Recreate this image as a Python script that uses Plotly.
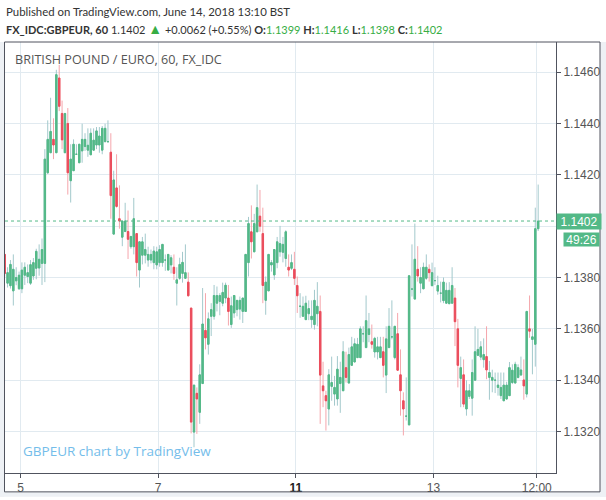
import numpy as np
import pandas as pd
import plotly.graph_objects as go

# ---------------- data (GBPEUR, 60 min bars) ----------------
opens = [
 1.13890,1.13778,1.13768,1.13748,1.13787,1.13756,1.13756,1.13809,1.13804,1.13778,
 1.13806,1.13836,1.13837,1.13855,1.13855,1.14208,1.14286,1.14338,1.14286,1.14577,
 1.14439,1.14286,1.14400,1.14177,1.14216,1.14280,1.14247,1.14293,1.14310,1.14296,
 1.14278,1.14296,1.14316,1.14316,1.14296,1.14329,1.14329,1.14288,1.13969,1.14149,
 1.14029,1.13957,1.13979,1.13979,1.13920,1.13920,1.13971,1.13829,1.13887,1.13887,
 1.13868,1.13868,1.13858,1.13849,1.13858,1.13858,1.13868,1.13829,1.13849,1.13840,
 1.13778,1.13797,1.13816,1.13797,1.13782,1.13681,1.13198,1.13349,1.13275,1.13387,
 1.13594,1.13540,1.13649,1.13649,1.13700,1.13707,1.13700,1.13720,1.13720,1.13617,
 1.13662,1.13675,1.13677,1.13668,1.13668,1.13858,1.13978,1.13900,1.13978,1.14039,
 1.13971,1.13711,1.13748,1.13849,1.13810,1.13858,1.13900,1.13898,1.13874,1.13840,
 1.13836,1.13832,1.13769,1.13688,1.13649,1.13636,1.13659,1.13636,1.13617,1.13659,
 1.13668,1.13378,1.13340,1.13288,1.13376,1.13346,1.13327,1.13387,1.13359,1.13449,
 1.13389,1.13458,1.13471,1.13488,1.13488,1.13581,1.13527,1.13578,1.13550,1.13510,
 1.13510,1.13488,1.13511,1.13420,1.13527,1.13569,1.13488,1.13581,1.13421,1.13320,
 1.13260,1.13226,1.13755,1.13716,1.13832,1.13778,1.13756,1.13797,1.13832,1.13768,
 1.13788,1.13747,1.13739,1.13710,1.13700,1.13698,1.13700,1.13720,1.13600,1.13407,
 1.13421,1.13288,1.13337,1.13330,1.13400,1.13497,1.13490,1.13480,1.13492,1.13411,
 1.13400,1.13400,1.13372,1.13340,1.13320,1.13327,1.13340,1.13391,1.13389,1.13411,
 1.13420,1.13401,1.13346,1.13600,1.13559,1.13540,1.13990,
]
highs = [
 1.13890,1.13840,1.13868,1.13890,1.13840,1.13823,1.13859,1.13859,1.13851,1.13868,
 1.13876,1.13912,1.13929,1.13952,1.14300,1.14412,1.14500,1.14420,1.14609,1.14628,
 1.14489,1.14439,1.14460,1.14319,1.14338,1.14319,1.14319,1.14399,1.14362,1.14381,
 1.14381,1.14381,1.14386,1.14386,1.14390,1.14399,1.14412,1.14362,1.14216,1.14280,
 1.14159,1.14020,1.14091,1.14061,1.13960,1.14110,1.13971,1.13939,1.13958,1.13971,
 1.13920,1.13909,1.13922,1.13920,1.13926,1.13929,1.13890,1.13890,1.13887,1.13890,
 1.13840,1.13877,1.13900,1.13929,1.13820,1.13681,1.13381,1.13372,1.13462,1.13759,
 1.13739,1.13664,1.13700,1.13771,1.13765,1.13739,1.13780,1.13780,1.13771,1.13726,
 1.13730,1.13711,1.13726,1.13720,1.13890,1.14036,1.14081,1.14048,1.14162,1.14141,
 1.14072,1.13804,1.13890,1.13868,1.13909,1.13958,1.14001,1.13958,1.13984,1.13890,
 1.13890,1.13900,1.13804,1.13739,1.13726,1.13729,1.13711,1.13711,1.13752,1.13782,
 1.13730,1.13472,1.13359,1.13443,1.13492,1.13417,1.13494,1.13472,1.13552,1.13511,
 1.13527,1.13569,1.13563,1.13565,1.13610,1.13610,1.13730,1.13662,1.13617,1.13569,
 1.13569,1.13569,1.13569,1.13610,1.13681,1.13711,1.13610,1.13662,1.13520,1.13353,
 1.13411,1.13807,1.13929,1.14010,1.13922,1.13840,1.13858,1.13890,1.13851,1.13858,
 1.13840,1.13807,1.13784,1.13800,1.13780,1.13782,1.13840,1.13759,1.13639,1.13492,
 1.13481,1.13400,1.13385,1.13481,1.13610,1.13600,1.13552,1.13563,1.13610,1.13475,
 1.13441,1.13430,1.13430,1.13430,1.13430,1.13394,1.13471,1.13462,1.13472,1.13462,
 1.13492,1.13481,1.13668,1.13730,1.13600,1.14072,1.14162,
]
lows = [
 1.13804,1.13761,1.13757,1.13691,1.13770,1.13752,1.13739,1.13771,1.13778,1.13771,
 1.13791,1.13793,1.13807,1.13771,1.13782,1.14203,1.14286,1.14261,1.14286,1.14448,
 1.14300,1.14286,1.14123,1.14092,1.14216,1.14278,1.14247,1.14247,1.14293,1.14270,
 1.14278,1.14293,1.14300,1.14286,1.14280,1.14327,1.14329,1.14029,1.13969,1.14072,
 1.13990,1.13922,1.13979,1.13872,1.13912,1.13890,1.13804,1.13761,1.13851,1.13855,
 1.13842,1.13855,1.13832,1.13832,1.13842,1.13842,1.13826,1.13829,1.13816,1.13791,
 1.13691,1.13791,1.13780,1.13797,1.13726,1.13193,1.13139,1.13191,1.13230,1.13387,
 1.13520,1.13500,1.13572,1.13636,1.13668,1.13653,1.13688,1.13700,1.13613,1.13604,
 1.13643,1.13649,1.13636,1.13623,1.13668,1.13804,1.13874,1.13900,1.13978,1.13978,
 1.13700,1.13655,1.13748,1.13823,1.13791,1.13836,1.13881,1.13859,1.13842,1.13804,
 1.13829,1.13771,1.13662,1.13643,1.13649,1.13636,1.13634,1.13604,1.13597,1.13610,
 1.13230,1.13295,1.13204,1.13224,1.13320,1.13301,1.13301,1.13273,1.13359,1.13391,
 1.13389,1.13458,1.13471,1.13488,1.13488,1.13548,1.13527,1.13548,1.13523,1.13488,
 1.13481,1.13488,1.13411,1.13350,1.13527,1.13559,1.13481,1.13439,1.13262,1.13185,
 1.13243,1.13226,1.13726,1.13716,1.13784,1.13739,1.13756,1.13791,1.13784,1.13768,
 1.13771,1.13733,1.13703,1.13700,1.13700,1.13698,1.13700,1.13533,1.13372,1.13295,
 1.13295,1.13262,1.13327,1.13262,1.13400,1.13494,1.13478,1.13449,1.13404,1.13324,
 1.13353,1.13350,1.13340,1.13327,1.13320,1.13324,1.13340,1.13385,1.13389,1.13407,
 1.13420,1.13324,1.13333,1.13565,1.13423,1.13453,1.13981,
]
closes = [
 1.13816,1.13819,1.13851,1.13832,1.13800,1.13809,1.13829,1.13840,1.13819,1.13850,
 1.13858,1.13902,1.13871,1.13909,1.14261,1.14338,1.14369,1.14316,1.14590,1.14467,
 1.14336,1.14439,1.14208,1.14261,1.14319,1.14280,1.14319,1.14338,1.14338,1.14315,
 1.14362,1.14335,1.14371,1.14351,1.14381,1.14381,1.14329,1.14119,1.14180,1.14077,
 1.14020,1.14020,1.14020,1.13949,1.13960,1.14029,1.13858,1.13939,1.13939,1.13909,
 1.13890,1.13890,1.13903,1.13900,1.13909,1.13929,1.13868,1.13890,1.13877,1.13816,
 1.13791,1.13851,1.13859,1.13819,1.13729,1.13237,1.13381,1.13327,1.13421,1.13619,
 1.13565,1.13639,1.13675,1.13730,1.13730,1.13730,1.13742,1.13770,1.13668,1.13690,
 1.13730,1.13711,1.13711,1.13720,1.13890,1.14010,1.13939,1.14010,1.14072,1.14000,
 1.13769,1.13782,1.13890,1.13858,1.13909,1.13939,1.13932,1.13929,1.13978,1.13829,
 1.13858,1.13797,1.13729,1.13688,1.13688,1.13700,1.13679,1.13649,1.13711,1.13688,
 1.13420,1.13359,1.13320,1.13421,1.13391,1.13372,1.13443,1.13411,1.13511,1.13411,
 1.13500,1.13530,1.13542,1.13540,1.13600,1.13581,1.13632,1.13600,1.13540,1.13563,
 1.13530,1.13530,1.13458,1.13561,1.13610,1.13569,1.13610,1.13439,1.13359,1.13288,
 1.13260,1.13807,1.13755,1.13871,1.13806,1.13800,1.13840,1.13840,1.13819,1.13819,
 1.13788,1.13769,1.13739,1.13782,1.13750,1.13750,1.13769,1.13628,1.13458,1.13449,
 1.13307,1.13359,1.13359,1.13430,1.13511,1.13520,1.13530,1.13500,1.13440,1.13430,
 1.13411,1.13400,1.13381,1.13372,1.13381,1.13381,1.13449,1.13439,1.13462,1.13449,
 1.13440,1.13378,1.13668,1.13591,1.13569,1.13990,1.14020,
]

# hourly bar times (weekend closed from Fri 22:00 to Sun 22:00)
all_hours = pd.date_range("2018-06-04 18:00", "2018-06-14 12:00", freq="h")
weekend = (all_hours >= pd.Timestamp("2018-06-08 22:00")) & (all_hours < pd.Timestamp("2018-06-10 22:00"))
bar_times = all_hours[~weekend]

tick_times = ["2018-06-05 00:00", "2018-06-07 00:00", "2018-06-11 00:00",
              "2018-06-13 00:00", "2018-06-14 12:00"]
tick_labels = ["5", "7", '<span style="color:#222"><b>11</b></span>', "13", "12:00"]
price_ticks = [1.1320, 1.1340, 1.1360, 1.1380, 1.1400, 1.1420, 1.1440, 1.1460]

last_price = 1.1402
countdown = "49:26"
header_line1 = "Published on TradingView.com, June 14, 2018 13:10 BST"
symbol = "FX_IDC:GBPEUR, 60"
change_text = "+0.0062 (+0.55%)"
ohlc_labels = ["O:", "H:", "L:", "C:"]
ohlc_values = ["1.1399", "1.1416", "1.1398", "1.1402"]
chart_title = "BRITISH POUND / EURO, 60, FX_IDC"
watermark = "GBPEUR chart by TradingView"

# ---------------- figure ----------------
W, H = 606, 500
ML, MR, MT, MB = 5, 50, 42, 24
PW, PH = W - ML - MR, H - MT - MB

def px_x(px):
    return (px - ML) / PW

def px_y(py):
    return (H - MB - py) / PH

UP, DN = "#53b987", "#eb4d5c"
UP_WICK, DN_WICK = "#a3c9cc", "#f5a6ac"
DARK = "#50535e"
GRID = "#e1eaf0"
VAL_GREEN = "#37ad45"

o = np.array(opens); hi = np.array(highs); lo = np.array(lows); c = np.array(closes)
pos = np.arange(len(bar_times))
up = c >= o
dn = ~up
body_hi = np.maximum(o, c)
body_lo = np.minimum(o, c)


def candles(mask, h_arr, l_arr, line_color, fill_color):
    style = dict(line=dict(color=line_color, width=1), fillcolor=fill_color)
    return go.Candlestick(
        x=pos[mask], open=o[mask], high=h_arr[mask], low=l_arr[mask], close=c[mask],
        increasing=style, decreasing=style, whiskerwidth=0,
        hoverinfo="skip", showlegend=False,
    )


fig = go.Figure()
fig.add_trace(candles(up, hi, lo, UP_WICK, UP))
fig.add_trace(candles(dn, hi, lo, DN_WICK, DN))
fig.add_trace(candles(up, body_hi, body_lo, UP, UP))
fig.add_trace(candles(dn, body_hi, body_lo, DN, DN))

tick_pos = [bar_times.get_loc(pd.Timestamp(t)) - 0.5 for t in tick_times]

# the 1.1400 label sits under the last-price box, so its text is hidden
price_ticktext = ["" if abs(v - last_price) < 0.0005 else f"{v:.4f}" for v in price_ticks]

axis_font = dict(family="Liberation Sans, Arial, sans-serif", size=12, color="#555")
fig.update_layout(
    width=W, height=H,
    margin=dict(l=ML, r=MR, t=MT, b=MB),
    paper_bgcolor="white", plot_bgcolor="white",
    showlegend=False,
    boxgap=0.3, boxgroupgap=0.3,
    xaxis=dict(
        range=[0.1, 0.1 + PW / 2.868],
        tickmode="array", tickvals=tick_pos, ticktext=tick_labels,
        showgrid=True, gridcolor=GRID, gridwidth=1,
        showline=True, linecolor=DARK, linewidth=1,
        ticks="outside", ticklen=4, tickcolor=DARK,
        tickfont=axis_font, zeroline=False,
        rangeslider=dict(visible=False), fixedrange=True,
    ),
    yaxis=dict(
        side="right",
        range=[1.130387, 1.147172],
        tickmode="array", tickvals=price_ticks, ticktext=price_ticktext,
        showgrid=True, gridcolor=GRID, gridwidth=1,
        showline=True, linecolor=DARK, linewidth=1,
        ticks="outside", ticklen=4, tickcolor=DARK,
        tickfont=axis_font, zeroline=False, fixedrange=True,
    ),
)

OUTER = "#eef1f5"
shapes = [
    # outer light-grey surround
    dict(type="rect", xref="paper", yref="paper", x0=px_x(0), x1=px_x(4.5),
         y0=px_y(H), y1=px_y(42), fillcolor=OUTER, line=dict(width=0), layer="below"),
    dict(type="rect", xref="paper", yref="paper", x0=px_x(600), x1=px_x(W),
         y0=px_y(H), y1=px_y(42), fillcolor=OUTER, line=dict(width=0), layer="below"),
    dict(type="rect", xref="paper", yref="paper", x0=px_x(0), x1=px_x(W),
         y0=px_y(H), y1=px_y(495), fillcolor=OUTER, line=dict(width=0), layer="below"),
    # panel border
    dict(type="rect", xref="paper", yref="paper", x0=px_x(4.5), x1=px_x(600),
         y0=px_y(495), y1=px_y(42), line=dict(color=DARK, width=1), layer="above"),
    # last price dotted line
    dict(type="line", xref="paper", yref="y", x0=0, x1=1, y0=last_price, y1=last_price,
         line=dict(color=UP, width=1, dash="dot"), layer="above"),
]
fig.update_layout(shapes=shapes)

hdr_font = "Lato, Open Sans, sans-serif"
line2 = (f"<b>{symbol}</b> {last_price:.4f} "
         f'<span style="color:{VAL_GREEN};font-size:14px">▲</span> {change_text} '
         + " ".join(f'<b>{lab}</b><span style="color:{VAL_GREEN}">{val}</span>'
                    for lab, val in zip(ohlc_labels, ohlc_values)))

annotations = [
    dict(text=header_line1, x=px_x(4), y=px_y(11), xref="paper", yref="paper",
         xanchor="left", yanchor="middle", showarrow=False,
         font=dict(family=hdr_font, size=11.4, color="#333")),
    dict(text=line2, x=px_x(4), y=px_y(28), xref="paper", yref="paper",
         xanchor="left", yanchor="middle", showarrow=False,
         font=dict(family=hdr_font, size=11, color="#333")),
    dict(text=chart_title, x=px_x(13), y=px_y(60), xref="paper", yref="paper",
         xanchor="left", yanchor="middle", showarrow=False,
         font=dict(family="Open Sans, sans-serif", size=12.6, color="#555")),
    dict(text=watermark, x=px_x(21), y=px_y(454), xref="paper", yref="paper",
         xanchor="left", yanchor="middle", showarrow=False,
         font=dict(family="Open Sans, sans-serif", size=13.5, color="#74bdea")),
    dict(text=f"{last_price:.4f}", x=1, y=last_price, xref="paper", yref="y",
         xanchor="left", yanchor="middle", showarrow=False, width=44, height=15,
         bgcolor=UP, borderpad=0, align="center",
         font=dict(family="Liberation Sans, Arial, sans-serif", size=12, color="white")),
    dict(text=countdown, x=px_x(600), y=px_y(241), xref="paper", yref="paper",
         xanchor="right", yanchor="middle", showarrow=False, width=35, height=13,
         bgcolor=UP, borderpad=0, align="center",
         font=dict(family="Liberation Sans, Arial, sans-serif", size=12, color="white")),
]
fig.update_layout(annotations=annotations)

fig.write_html(
    "out.html",
    config={"displayModeBar": False},
    post_script="document.body.style.margin='0';document.body.style.padding='0';",
)
